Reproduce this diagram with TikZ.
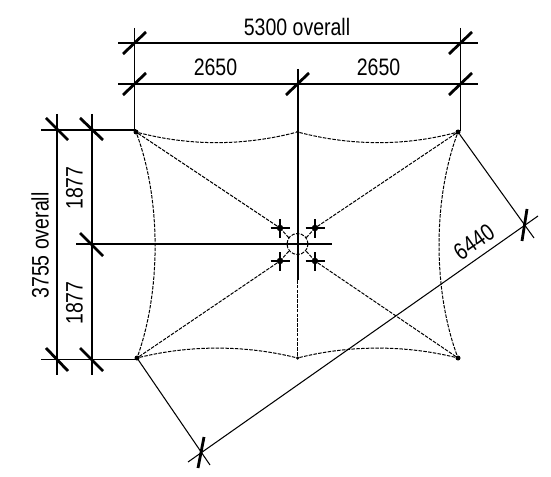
\documentclass[tikz,border=0pt]{standalone}
\usepackage{fontspec}
\setmainfont[FakeStretch=0.82]{Liberation Sans}
\begin{document}
\begin{tikzpicture}[x=1bp,y=-1bp,
  dimline/.style={line width=1.05bp,black},
  heavyline/.style={line width=2bp,black},
  tick/.style={line width=2.8bp,black},
  cable/.style={line width=1bp,black,dash pattern=on 3.5bp off 1.3bp},
  anchorpt/.style={circle,fill=black,inner sep=0pt,minimum size=5bp},
  midpt/.style={circle,fill=black,inner sep=0pt,minimum size=3.5bp},
  lab/.style={font=\fontsize{23.8bp}{26bp}\selectfont,inner sep=0pt,text=black}]
\useasboundingbox (0,0) rectangle (551,477);
% plan corners
\node[anchorpt] (tl) at (136,132) {};
\node[anchorpt] (tr) at (458,132) {};
\node[anchorpt] (bl) at (137,358) {};
\node[anchorpt] (br) at (458,358) {};
\node[midpt] (tm) at (297.5,132) {};
\node[midpt] (bm) at (297.5,358) {};
\coordinate (c) at (297.5,244);
% dimension free ends
\coordinate (t1a) at (134.5,28); \coordinate (t1b) at (460.5,28);
\coordinate (t1c) at (134.5,131); \coordinate (t1d) at (460.5,131);
\coordinate (ov1) at (118,43); \coordinate (ov2) at (478,43);
\coordinate (h1) at (118,84); \coordinate (h2) at (478,84);
\coordinate (mt) at (297.5,69);
\coordinate (l1a) at (41,130); \coordinate (l1b) at (41,359.5);
\coordinate (l1c) at (136,130); \coordinate (l1d) at (137,359.5);
\coordinate (v1a) at (57,114); \coordinate (v1b) at (57,375);
\coordinate (v2a) at (92,114); \coordinate (v2b) at (92,375);
\coordinate (ml) at (76,244); \coordinate (mr) at (332,244);
\coordinate (dA0) at (188,462); \coordinate (dB0) at (538,216);
\coordinate (eA) at (210,465); \coordinate (eB) at (534,238);
\coordinate (vsolid) at (297.5,280);
% dimension lines
\draw[dimline] (t1a) -- (t1c);
\draw[dimline] (t1b) -- (t1d);
\draw[dimline] (ov1) -- (ov2);
\draw[dimline] (h1) -- (h2);
\draw[dimline] (l1a) -- (l1c);
\draw[dimline] (l1b) -- (l1d);
\draw[dimline] (v1a) -- (v1b);
\draw[dimline] (v2a) -- (v2b);
\draw[dimline] (tr) -- (eB);
\draw[dimline] (bl) -- (eA);
\draw[dimline] (dA0) -- (dB0);
% central members
\draw[heavyline] (mt) -- (vsolid);
\draw[cable] (vsolid) -- (bm);
\draw[heavyline] (ml) -- (mr);
% ticks
\draw[tick] (123,54) -- (146,32);
\draw[tick] (449,54) -- (472,32);
\draw[tick] (123,95) -- (146,73);
\draw[tick] (286,95) -- (309,73);
\draw[tick] (449,95) -- (472,73);
\draw[tick] (46,118) -- (68,140);
\draw[tick] (80,118) -- (103,140);
\draw[tick] (80,233) -- (103,256);
\draw[tick] (46,348) -- (68,371);
\draw[tick] (80,348) -- (103,371);
\draw[tick] (522,241) -- (527,209);
\draw[tick] (198,468) -- (204,437);
% membrane edges
\draw[cable] (tl) .. controls (190,146) and (243,146) .. (tm);
\draw[cable] (tm) .. controls (352,146) and (405,146) .. (tr);
\draw[cable] (bl) .. controls (190,345) and (245,345) .. (bm);
\draw[cable] (bm) .. controls (350,345) and (405,345) .. (br);
\draw[cable] (tl) .. controls (161,200) and (161,290) .. (bl);
\draw[cable] (tr) .. controls (433,200) and (433,290) .. (br);
% diagonals
\coordinate (p1) at (280,228); \coordinate (p2) at (315,228);
\coordinate (p3) at (280,261); \coordinate (p4) at (315,261);
\draw[cable] (tl) -- (p1);
\draw[cable] (tr) -- (p2);
\draw[cable] (bl) -- (p3);
\draw[cable] (br) -- (p4);
\draw[cable] (c) circle (10.5bp);
\draw[cable] (p1) -- (289,238);
\draw[cable] (p2) -- (306,238);
\draw[cable] (p3) -- (289,251);
\draw[cable] (p4) -- (306,251);
% fittings
\foreach \p in {p1,p2,p3,p4}{
  \node[circle,fill=black,inner sep=0pt,minimum size=6.5bp] at (\p) {};
  \draw[line width=2bp] ([xshift=-9.5bp]\p) -- ([xshift=9.5bp]\p);
  \draw[line width=2bp] ([yshift=-9.5bp]\p) -- ([yshift=9.5bp]\p);
}
% labels
\node[lab] (lov) at (297,26.5) {5300 overall};
\node[lab] (lh1) at (215.5,67) {2650};
\node[lab] (lh2) at (378.5,67) {2650};
\node[lab,rotate=90] (lvo) at (40,245.5) {3755 overall};
\node[lab,rotate=90] (lv1) at (74.5,188) {1877};
\node[lab,rotate=90] (lv2) at (74.5,303) {1877};
\node[lab,rotate=35] (ld) at (474,242) {6440};
\end{tikzpicture}
\end{document}
